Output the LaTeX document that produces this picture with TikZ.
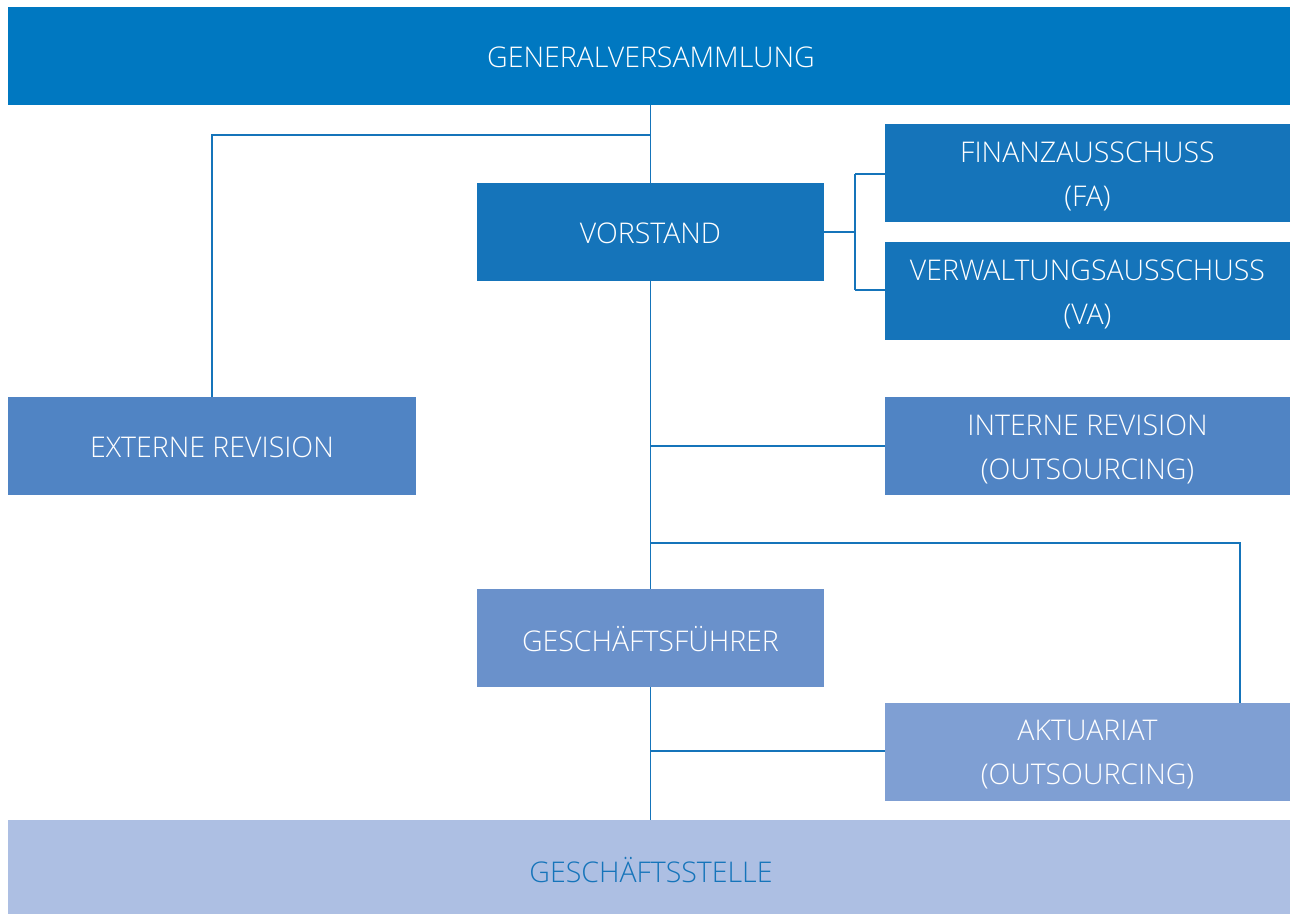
\documentclass[tikz,border=0pt]{standalone}
\usepackage{fontspec}
\setmainfont{Open Sans}[UprightFont=* Light]
\definecolor{cgv}{HTML}{0078C1}
\definecolor{cvor}{HTML}{1574BA}
\definecolor{crev}{HTML}{5084C4}
\definecolor{cgf}{HTML}{6A91CB}
\definecolor{cakt}{HTML}{7F9FD3}
\definecolor{cgs}{HTML}{ADBFE3}
\definecolor{cline}{HTML}{1574BA}
\tikzset{
  box/.style={draw=none, inner sep=0pt, text=white, align=center,
    font=\fontsize{28.5}{44}\selectfont},
  conn/.style={draw=cline, line width=1.5pt},
}
\begin{document}
\begin{tikzpicture}[x=1pt,y=-1pt]
\useasboundingbox (0,0) rectangle (1290,914);
% boxes
\path[fill=cgv] (8,7) rectangle (1290,105);
\node[box, minimum width=1282pt, minimum height=98pt] (gv) at (649,56) {};
\node[box] at (651,57) {GENERALVERSAMMLUNG};
\path[fill=cvor] (477,183) rectangle (824,281);
\node[box, minimum width=347pt, minimum height=98pt] (vor) at (650.5,232) {};
\node[box] at (650.5,233) {VORSTAND};
\path[fill=cvor] (885,124) rectangle (1290,222);
\node[box, minimum width=405pt, minimum height=98pt] (fa) at (1087.5,173) {};
\node[box] at (1087.5,176) {FINANZAUSSCHUSS\\(FA)};
\path[fill=cvor] (885,242) rectangle (1290,340);
\node[box, minimum width=405pt, minimum height=98pt] (va) at (1087.5,291) {};
\node[box] at (1087.5,294) {VERWALTUNGSAUSSCHUSS\\(VA)};
\path[fill=crev] (8,397) rectangle (416,495);
\node[box, minimum width=408pt, minimum height=98pt] (ext) at (212,446) {};
\node[box] at (212,447) {EXTERNE REVISION};
\path[fill=crev] (885,397) rectangle (1290,495);
\node[box, minimum width=405pt, minimum height=98pt] (int) at (1087.5,446) {};
\node[box] at (1087.5,449) {INTERNE REVISION\\(OUTSOURCING)};
\path[fill=cgf] (477,589) rectangle (824,687);
\node[box, minimum width=347pt, minimum height=98pt] (gf) at (650.5,638) {};
\node[box] at (650.5,639) {GESCHÄFTSFÜHRER};
\path[fill=cakt] (885,703) rectangle (1290,801);
\node[box, minimum width=405pt, minimum height=98pt] (akt) at (1087.5,752) {};
\node[box] at (1087.5,755) {AKTUARIAT\\(OUTSOURCING)};
\path[fill=cgs] (8,820) rectangle (1290,914);
\node[box, minimum width=1282pt, minimum height=94pt] (gs) at (649,867) {};
\node[box, text=cvor] at (651,870) {GESCHÄFTSSTELLE};
% junctions
\coordinate (jA) at (650.5,135);
\coordinate (jB) at (855,232);
\coordinate (jB1) at (855,174);
\coordinate (jB2) at (855,290);
\coordinate (jC) at (650.5,446);
\coordinate (jD) at (650.5,543);
\coordinate (jDe) at (1240,543);
\coordinate (jE) at (650.5,751);
% connectors
\draw[conn] (vor.north |- gv.south) -- (vor.north);
\draw[conn] (jA) -- (jA -| ext.north) -- (ext.north);
\draw[conn] (vor.east) -- (jB);
\draw[conn] (jB1) -- (jB2);
\draw[conn] (jB1) -- (jB1 -| fa.west);
\draw[conn] (jB2) -- (jB2 -| va.west);
\draw[conn] (vor.south) -- (gf.north);
\draw[conn] (jC) -- (jC -| int.west);
\draw[conn] (jD) -- (jDe) -- (jDe |- akt.north);
\draw[conn] (gf.south) -- (gf.south |- gs.north);
\draw[conn] (jE) -- (jE -| akt.west);
\end{tikzpicture}
\end{document}
